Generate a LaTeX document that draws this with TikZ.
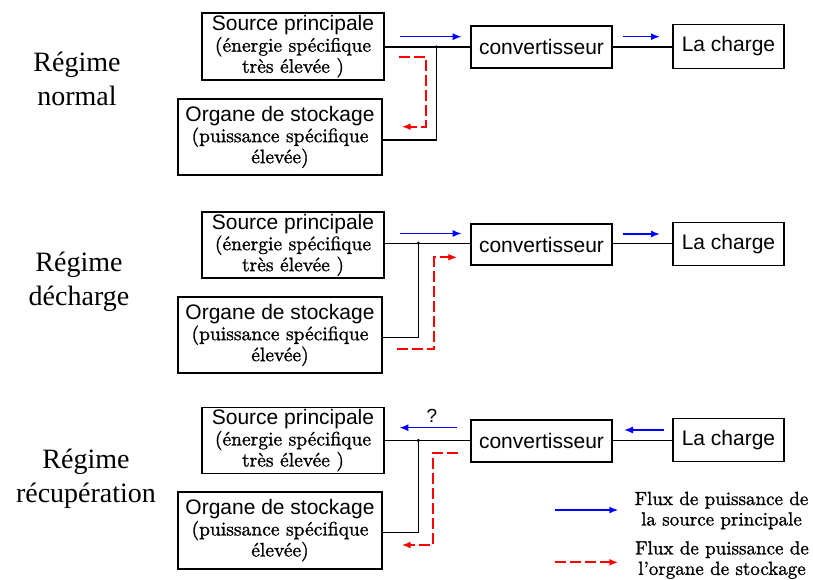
\documentclass[tikz,border=0pt]{standalone}
\usepackage{fontspec}
\newfontfamily\arialfont{Liberation Sans}
\newfontfamily\timesfont{Liberation Serif}
\newfontfamily\cmfont{lmroman10-regular}[Extension=.otf, FakeBold=1.2]
\usetikzlibrary{arrows.meta}

\tikzset{
  unit/.style={draw, line width=1.4pt, inner sep=0pt, align=center,
    font=\arialfont\fontsize{21}{21}\selectfont},
  twoline/.style={unit, font=\cmfont\fontsize{19.5}{21}\selectfont},
  conn/.style={line width=1.3pt, black},
  jdot/.style={circle, fill=black, inner sep=0pt, minimum size=3.5pt},
  mainflow/.style={blue, line width=1.5pt, -{Latex[length=9pt,width=7pt]}},
  storflow/.style={red, line width=2pt, dash pattern=on 11pt off 4pt,
    -{Latex[length=9pt,width=7pt]}},
  regime/.style={align=center, font=\timesfont\fontsize{28}{34}\selectfont},
  legend/.style={align=center, font=\cmfont\fontsize{19}{20.5}\selectfont},
}
\newcommand{\srctext}{{\arialfont\fontsize{21}{21}\selectfont Source principale}\\(énergie spécifique\\très élevée )}
\newcommand{\orgtext}{{\arialfont\fontsize{21}{21}\selectfont Organe de stockage}\\(puissance spécifique\\élevée)}

\begin{document}
\begin{tikzpicture}[x=1pt, y=-1pt]
\useasboundingbox (0,0) rectangle (813,580);

% ---------- Régime normal ----------
\node[regime] (labA) at (77,79) {Régime\\normal};
\node[twoline, minimum width=182pt, minimum height=67pt] (srcA) at (293,46.5) {\srctext};
\node[twoline, minimum width=204pt, minimum height=76pt] (orgA) at (280,137) {\orgtext};
\node[unit, minimum width=141pt, minimum height=42pt] (cnvA) at (541.5,47) {convertisseur};
\node[unit, minimum width=111pt, minimum height=44pt] (ldA) at (728.5,46.5) {La charge};
\coordinate (jA) at (436.7,47);
\draw[conn] (srcA.east |- jA) -- (jA) -- (jA -| cnvA.west);
\draw[conn] (jA) |- ([yshift=-3pt]orgA.east);
\draw[conn] (cnvA.east) -- (cnvA.east -| ldA.west);
\node[jdot] (dA) at (jA) {};
\coordinate (bA1) at (400,36.7);  \coordinate (bA2) at (461.7,36.7);
\coordinate (bA3) at (622.7,36.7); \coordinate (bA4) at (660,36.7);
\draw[mainflow] (bA1) -- (bA2);
\draw[mainflow] (bA3) -- (bA4);
\coordinate (rA1) at (399,57.3); \coordinate (rA2) at (426,126.7); \coordinate (rA3) at (401.7,126.7);
\draw[storflow] (rA1) -| (rA2) -- (rA3);

% ---------- Régime décharge ----------
\node[regime] (labB) at (79,282) {Régime\\décharge};
\node[twoline, minimum width=182pt, minimum height=66pt] (srcB) at (293,245) {\srctext};
\node[twoline, minimum width=204pt, minimum height=76pt] (orgB) at (280,335) {\orgtext};
\node[unit, minimum width=141pt, minimum height=41pt] (cnvB) at (541.5,244.5) {convertisseur};
\node[unit, minimum width=111pt, minimum height=43pt] (ldB) at (728.5,243.7) {La charge};
\coordinate (jB) at (418.3,243.3);
\draw[conn] (srcB.east |- jB) -- (jB) -- (jB -| cnvB.west);
\draw[conn] (jB) |- ([yshift=-2.3pt]orgB.east);
\draw[conn] (cnvB.east |- jB) -- (jB -| ldB.west);
\node[jdot] (dB) at (jB) {};
\coordinate (bB1) at (400,233.5);  \coordinate (bB2) at (461.7,233.5);
\coordinate (bB3) at (622.7,234); \coordinate (bB4) at (660,234);
\draw[mainflow] (bB1) -- (bB2);
\draw[mainflow] (bB3) -- (bB4);
\coordinate (rB1) at (396.7,349.3); \coordinate (rB2) at (434,257.3); \coordinate (rB3) at (457.3,257.3);
\draw[storflow] (rB1) -| (rB2) -- (rB3);

% ---------- Régime récupération ----------
\node[regime] (labC) at (86,479) {Régime\\récupération};
\node[twoline, minimum width=182pt, minimum height=66pt] (srcC) at (293,440.3) {\srctext};
\node[twoline, minimum width=204pt, minimum height=77pt] (orgC) at (280,530.3) {\orgtext};
\node[unit, minimum width=141pt, minimum height=42pt] (cnvC) at (541.5,440.8) {convertisseur};
\node[unit, minimum width=111pt, minimum height=43pt] (ldC) at (728.5,440) {La charge};
\coordinate (jC) at (418.3,440.5);
\draw[conn] (srcC.east |- jC) -- (jC) -- (jC -| cnvC.west);
\draw[conn] (jC) |- ([yshift=-2.4pt]orgC.east);
\draw[conn] (cnvC.east |- jC) -- (jC -| ldC.west);
\node[jdot] (dC) at (jC) {};
\coordinate (bC1) at (457.3,427.7); \coordinate (bC2) at (399.3,427.7);
\coordinate (bC3) at (664,430);     \coordinate (bC4) at (624,430);
\draw[mainflow] (bC1) -- (bC2);
\draw[mainflow] (bC3) -- (bC4);
\node[font=\arialfont\fontsize{19}{21}\selectfont, inner sep=0pt] (qC) at (432,415.5) {?};
\coordinate (rC1) at (458,452.7); \coordinate (rC2) at (433.3,545); \coordinate (rC3) at (401.7,545);
\draw[storflow] (rC1) -| (rC2) -- (rC3);

% ---------- Legend ----------
\coordinate (lgA1) at (555,510); \coordinate (lgA2) at (618.3,510);
\draw[mainflow] (lgA1) -- (lgA2);
\node[legend] (lgA) at (721.5,510.5) {Flux de puissance de\\la source principale};
\coordinate (lgB1) at (555,562.3); \coordinate (lgB2) at (618.3,562.3);
\draw[storflow] (lgB1) -- (lgB2);
\node[legend] (lgB) at (722,560) {Flux de puissance de\\l’organe de stockage};
\end{tikzpicture}
\end{document}
